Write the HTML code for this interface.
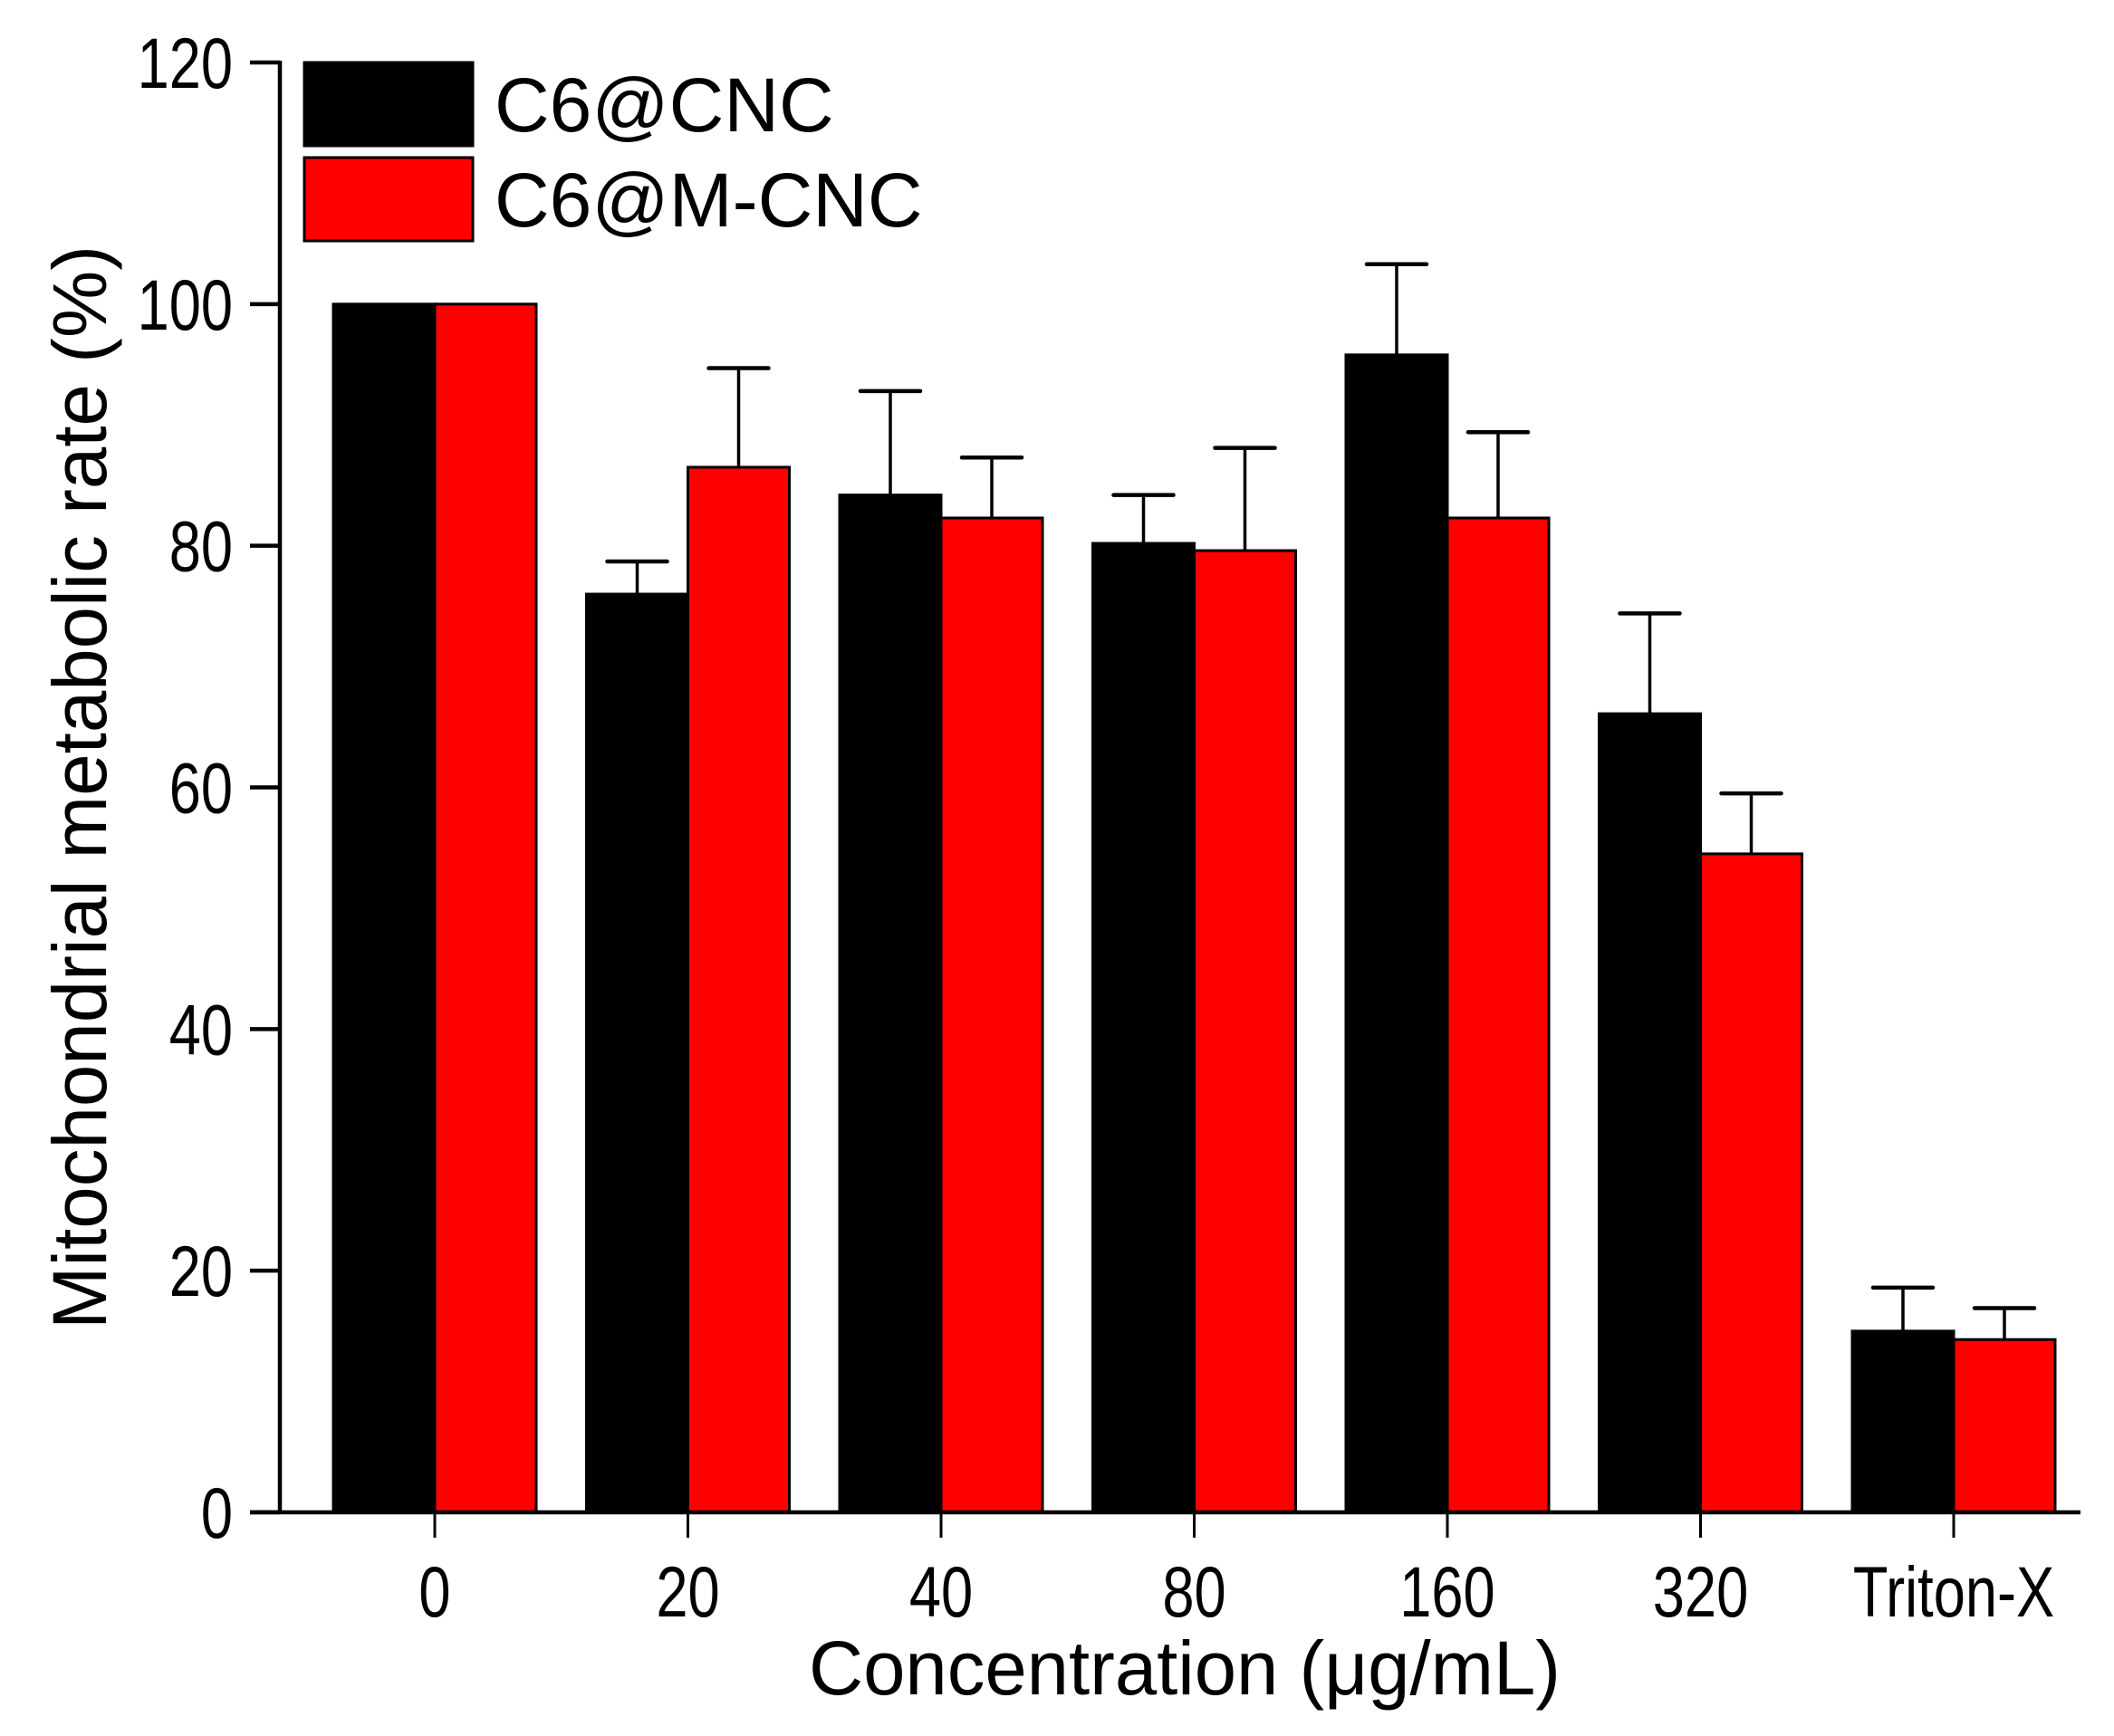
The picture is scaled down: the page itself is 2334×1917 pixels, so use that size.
<!DOCTYPE html>
<html><head><meta charset="utf-8"><style>
html,body{margin:0;padding:0;background:#fff;}
svg{display:block;font-family:"Liberation Sans",Arial,sans-serif;}
</style></head><body>
<svg width="2334" height="1917" viewBox="0 0 2334 1917">
<g id="plot"></g>
</svg>
<script>
const categories=["0","20","40","80","160","320","Triton-X"];
const seriesA=[100,76,84.2,80.2,95.8,66.1,15];
const errA=[0,2.7,8.6,4,7.5,8.3,3.6];
const seriesB=[100,86.5,82.3,79.6,82.3,54.5,14.3];
const errB=[0,8.2,5,8.5,7.1,5,2.6];
const yTicks=[0,20,40,60,80,100,120];
const seriesNames=["C6@CNC","C6@M-CNC"];

const NS="http://www.w3.org/2000/svg";
const g=document.getElementById('plot');
const X0=309,Y0=1670,YTOP=69,YMAX=120;
const firstTick=480,step=279.5,barW=112;
function y(v){return Y0-(v/YMAX)*(Y0-YTOP);}
function cx(i){return firstTick+i*step;}
function mk(tag,attrs,parent){const e=document.createElementNS(NS,tag);for(const k in attrs)e.setAttribute(k,attrs[k]);(parent||g).appendChild(e);return e;}

function drawSeries(vals,errs,color,offset,name){
  vals.forEach((v,i)=>{
    const x=cx(i)+offset;
    if(errs[i]>0){
      const top=y(v+errs[i]);
      const l=mk('line',{x1:x+barW/2,x2:x+barW/2,y1:y(v),y2:top,stroke:'#000','stroke-width':3.5});
      
      
      const c=mk('line',{x1:x+barW/2-33,x2:x+barW/2+33,y1:top,y2:top,stroke:'#000','stroke-width':4.5,'stroke-linecap':'round'});
      
      
    }
    const r=mk('rect',{x:x,y:y(v),width:barW,height:Y0-y(v),fill:color,stroke:'#000','stroke-width':3});
    
    
  });
}
drawSeries(seriesA,errA,'#000',-barW,'c6-cnc');
drawSeries(seriesB,errB,'#ff0000',0,'c6-m-cnc');

const ya=mk('line',{x1:X0,x2:X0,y1:YTOP-2,y2:Y0,stroke:'#000','stroke-width':4.5});


const xa=mk('line',{x1:276,x2:2297,y1:Y0,y2:Y0,stroke:'#000','stroke-width':4.5});



yTicks.forEach(t=>{
  const l=mk('line',{x1:276,x2:X0,y1:y(t),y2:y(t),stroke:'#000','stroke-width':4.5});
  
  
  const tx=mk('text',{x:257,y:y(t)+28,'font-size':79,'text-anchor':'end',fill:'#000',transform:`translate(257 0) scale(0.8 1) translate(-257 0)`});
  tx.textContent=t;
  
  
});
categories.forEach((c,i)=>{
  const l=mk('line',{x1:cx(i),x2:cx(i),y1:Y0,y2:Y0+28,stroke:'#000','stroke-width':3});
  
  
  const tx=mk('text',{x:cx(i),y:1785,'font-size':79,'text-anchor':'middle',fill:'#000',transform:`translate(${cx(i)} 0) scale(0.8 1) translate(${-cx(i)} 0)`});
  tx.textContent=c;
  
  
});

const xt=mk('text',{x:893,y:1871,'font-size':84,fill:'#000',textLength:830,lengthAdjust:'spacingAndGlyphs'});
xt.textContent='Concentration (\u03bcg/mL)';


const yt=mk('text',{x:-598,y:0,'font-size':84,fill:'#000',textLength:1197,lengthAdjust:'spacingAndGlyphs',transform:'translate(117 870) rotate(-90)'});
yt.textContent='Mitochondrial metabolic rate (%)';



const lg=mk('g',{});


const colors=['#000','#ff0000'];
seriesNames.forEach((n,i)=>{
  const top=69+i*105;
  const r=mk('rect',{x:336,y:top,width:186,height:92,fill:colors[i],stroke:'#000','stroke-width':3},lg);
  
  
  const t=mk('text',{x:546,y:top+76,'font-size':84,fill:'#000'},lg);
  t.textContent=n;
  
  
});
</script>
</body></html>
